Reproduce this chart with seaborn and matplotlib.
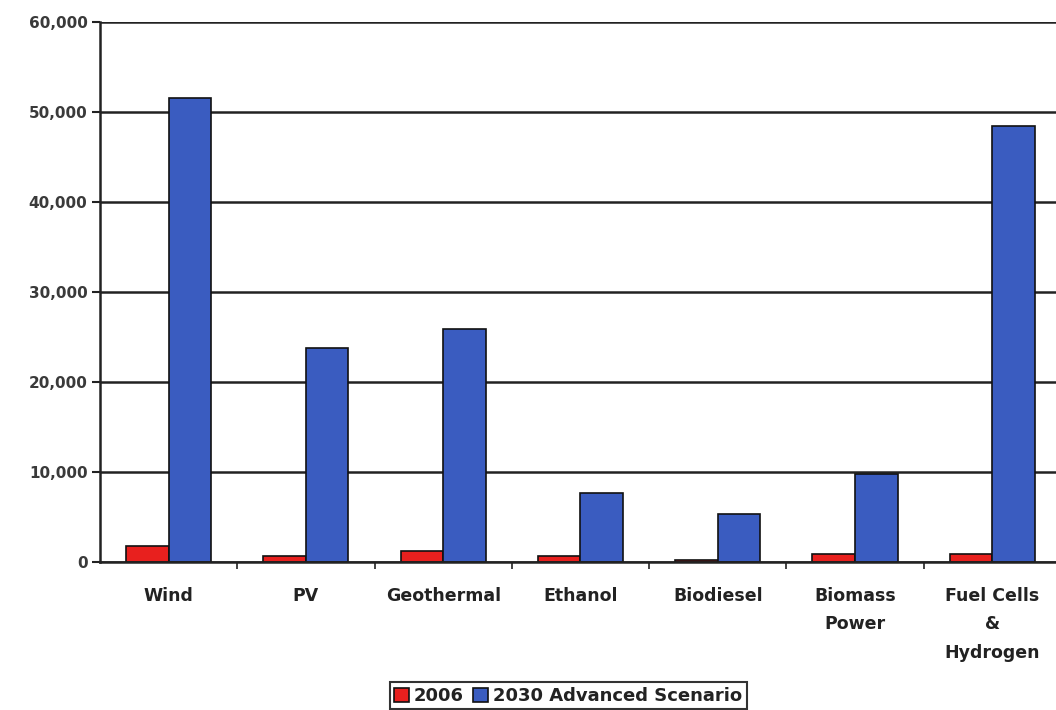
import pandas as pd
import matplotlib.pyplot as plt
import seaborn as sns
from matplotlib.ticker import FuncFormatter, FixedLocator

# ── 데이터 ────────────────────────────────────────────────────────────────
categories = ['Wind', 'PV', 'Geothermal', 'Ethanol', 'Biodiesel',
              'Biomass\nPower', 'Fuel Cells\n&\nHydrogen']
series = ['2006', '2030 Advanced Scenario']
vals_2006 = [1800, 700, 1200, 700, 200, 900, 900]
vals_2030 = [51600, 23800, 25900, 7700, 5300, 9800, 48400]
colors = ['#e8201e', '#3a5cc0']

df = pd.DataFrame({
    'category': categories * 2,
    'series': [series[0]] * len(categories) + [series[1]] * len(categories),
    'value': vals_2006 + vals_2030,
})

sns.set_style('white')
plt.rcParams['font.family'] = ['DejaVu Sans']

fig = plt.figure(figsize=(10.56, 7.10), dpi=100)
ax = fig.add_axes([0.0947, 0.2085, 0.91, 0.7605])

sns.barplot(data=df, x='category', y='value', hue='series', palette=colors,
            saturation=1, width=0.62, edgecolor='#111111', linewidth=1.2, ax=ax)

ax.set_ylim(0, 60000)
ax.set_xlim(-0.5, len(categories) - 0.5)
ax.set_yticks(range(0, 60001, 10000))
ax.yaxis.set_major_formatter(FuncFormatter(lambda v, p: f'{int(v):,}'))
ax.grid(axis='y', color='#222222', linewidth=1.8)
ax.set_axisbelow(True)

for s in ['top', 'right']:
    ax.spines[s].set_visible(False)
ax.spines['left'].set_color('#222222')
ax.spines['left'].set_linewidth(1.8)
ax.spines['bottom'].set_color('#222222')
ax.spines['bottom'].set_linewidth(1.8)

ax.tick_params(axis='y', which='major', direction='out', length=6, width=1.5,
               color='#222222', labelsize=11, labelcolor='#3a3a3a', left=True, pad=3)
ax.tick_params(axis='x', which='major', length=0, labelsize=12.5,
               labelcolor='#222222', pad=18)
ax.xaxis.set_minor_locator(FixedLocator([i + 0.5 for i in range(len(categories))]))
ax.tick_params(axis='x', which='minor', direction='out', length=5, width=1.2,
               color='#222222', bottom=True)
for lbl in ax.get_xticklabels():
    lbl.set_fontweight('bold')
    lbl.set_linespacing(1.75)
for lbl in ax.get_yticklabels():
    lbl.set_fontweight('bold')

ax.set_xlabel('')
ax.set_ylabel('')

leg = ax.legend(loc='lower center', bbox_to_anchor=(0.538, -0.012),
                bbox_transform=fig.transFigure, ncol=2, frameon=True,
                fancybox=False, edgecolor='black', handlelength=0.8,
                handleheight=0.8, handletextpad=0.3, columnspacing=0.5,
                borderpad=0.25, prop={'weight': 'bold', 'size': 13})
leg.get_frame().set_linewidth(1.5)
for t in leg.get_texts():
    t.set_color('#222222')

fig.savefig('out.png', dpi=100)
